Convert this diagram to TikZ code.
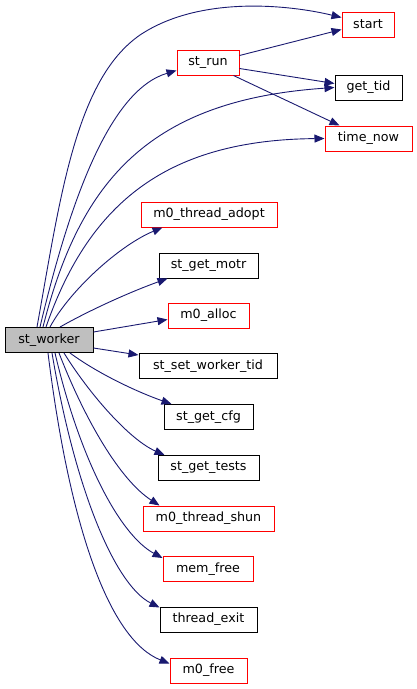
\documentclass[tikz,border=0pt]{standalone}
\usepackage{fontspec}
\setmainfont{DejaVu Sans}
\usetikzlibrary{arrows.meta,calc}
\definecolor{edgeblue}{HTML}{191970}
\tikzset{
  box/.style={draw, line width=1pt, minimum height=25pt, inner sep=0pt, font=\fontsize{12.7}{14}\selectfont, anchor=center},
  redbox/.style={box, draw=red},
  blackbox/.style={box, draw=black},
  rootbox/.style={box, draw=black, fill=black!25},
  call/.style={draw=edgeblue, line width=0.9pt, -{Triangle[length=10pt,width=8pt]}, fill=none},
}
\begin{document}
\begin{tikzpicture}[x=1pt,y=-1pt]
\useasboundingbox (0,0) rectangle (417,689);
\node[rootbox, minimum width=88pt] (w) at (49,340) {st\_worker};
\node[redbox, minimum width=62pt] (run) at (208,62.5) {st\_run};
\node[redbox, minimum width=52pt] (start) at (368,24.5) {start};
\node[blackbox, minimum width=67pt] (tid) at (368.5,87.5) {get\_tid};
\node[redbox, minimum width=87pt] (now) at (368.5,138.5) {time\_now};
\node[redbox, minimum width=136pt] (adopt) at (209,214.5) {m0\_thread\_adopt};
\node[blackbox, minimum width=99pt] (motr) at (208.5,265.5) {st\_get\_motr};
\node[redbox, minimum width=81pt] (alloc) at (208.5,315.5) {m0\_alloc};
\node[blackbox, minimum width=138pt] (setw) at (208,366) {st\_set\_worker\_tid};
\node[blackbox, minimum width=89pt] (cfg) at (208.5,417) {st\_get\_cfg};
\node[blackbox, minimum width=101pt] (tests) at (208.5,468) {st\_get\_tests};
\node[redbox, minimum width=131pt] (shun) at (208.5,518.5) {m0\_thread\_shun};
\node[redbox, minimum width=90pt] (memfree) at (208,569) {mem\_free};
\node[blackbox, minimum width=97pt] (texit) at (208.5,619.5) {thread\_exit};
\node[redbox, minimum width=77pt] (free) at (208.5,670.5) {m0\_free};

% from st_worker
\draw[call] ($(w.north)+(-12,0)$) .. controls (60,200) and (75,80) .. (140,35) .. controls (200,-5) and (290,5) .. ($(start.west)+(0,-7)$);
\draw[call] ($(w.north)+(-9,0)$) .. controls (70,200) and (110,90) .. ($(run.west)+(0,8)$);
\draw[call] ($(w.north)+(-6,0)$) .. controls (80,180) and (150,100) .. ($(tid.west)+(0,0)$);
\draw[call] ($(w.north)+(-3,0)$) .. controls (90,200) and (170,140) .. ($(now.west)+(0,0)$);
\draw[call] ($(w.north)+(1,0)$) .. controls (70,290) and (120,245) .. ($(adopt.south west)+(22,0)$);
\draw[call] ($(w.north)+(11,0)$) .. controls (90,310) and (130,292) .. ($(motr.south west)+(9,0)$);
\draw[call] ($(w.east)+(0,-8)$) -- ($(alloc.west)+(0,4)$);
\draw[call] ($(w.east)+(0,8)$) -- ($(setw.north west)+(0,2)$);
\draw[call] ($(w.south)+(21,0)$) .. controls (100,375) and (140,393) .. ($(cfg.north west)+(8,0)$);
\draw[call] ($(w.south)+(15,0)$) .. controls (90,395) and (130,440) .. ($(tests.north west)+(7,0)$);
\draw[call] ($(w.south)+(10,0)$) .. controls (85,420) and (120,480) .. ($(shun.north west)+(17,0)$);
\draw[call] ($(w.south)+(6,0)$) .. controls (80,460) and (120,535) .. ($(memfree.north west)+(0,2)$);
\draw[call] ($(w.south)+(3,0)$) .. controls (75,490) and (115,585) .. ($(texit.north west)+(0,1)$);
\draw[call] ($(w.south)+(-1,0)$) .. controls (70,530) and (110,640) .. ($(free.west)+(0,-7)$);

% from st_run
\draw[call] ($(run.east)+(0,-7)$) -- ($(start.west)+(0,5)$);
\draw[call] ($(run.east)+(0,6)$) -- ($(tid.west)+(0,-4)$);
\draw[call] ($(run.south east)+(-6,0)$) -- ($(now.north west)+(15,0)$);
\end{tikzpicture}
\end{document}
